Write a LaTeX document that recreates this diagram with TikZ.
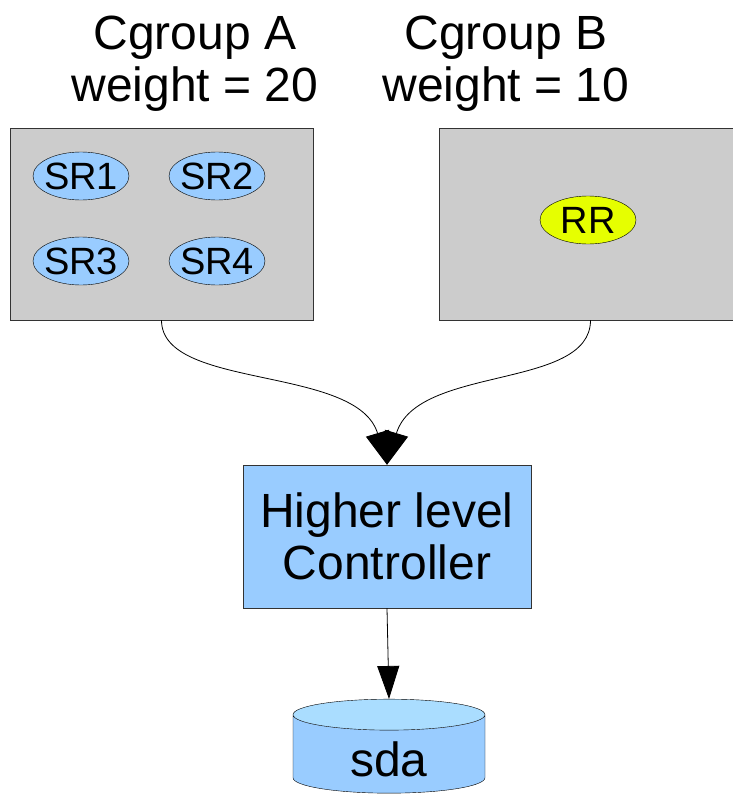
\documentclass[tikz,border=0pt]{standalone}
\usepackage{fontspec}
\setmainfont{Liberation Sans}
\usetikzlibrary{arrows.meta,shapes,calc}
\definecolor{boxgray}{RGB}{204,204,204}
\definecolor{reqblue}{RGB}{153,204,255}
\definecolor{topblue}{RGB}{170,221,255}
\definecolor{rryellow}{RGB}{230,255,0}
\definecolor{edgegray}{RGB}{51,51,51}
\newcommand{\bigtxt}{\fontsize{48pt}{52pt}\selectfont}
\newcommand{\midtxt}{\fontsize{38pt}{44pt}\selectfont}
\tikzstyle{cgroup}=[draw=edgegray, fill=boxgray, minimum width=303pt, minimum height=192pt, inner sep=0pt]
\tikzstyle{req}=[draw=black, ellipse, fill=reqblue, minimum width=96pt, minimum height=48pt, inner sep=-12pt, font=\midtxt]
\tikzstyle{ctlbox}=[draw=edgegray, fill=reqblue, minimum width=288pt, minimum height=143pt, align=center, font=\bigtxt]
\tikzstyle{disk}=[draw=black, cylinder, shape border rotate=90, aspect=0.4, cylinder uses custom fill, cylinder body fill=reqblue, cylinder end fill=topblue, minimum width=192pt, minimum height=94pt, inner sep=0pt, text height=44pt, text depth=0pt, font=\bigtxt]
\tikzstyle{flow}=[line width=0.8pt, -{Triangle[width=24pt,length=33pt]}]
\newcommand{\reqnode}[3]{
	\node[req] (#1) at #2 {#3};
}

\begin{document}
\begin{tikzpicture}[x=1pt, y=-1pt]
\useasboundingbox (0,0) rectangle (733,798);
%
	\node[font=\bigtxt, align=center, anchor=base] (titA) at (195,101) {Cgroup A\\weight = 20};
	\node[font=\bigtxt, align=center, anchor=base] (titB) at (506,101) {Cgroup B\\weight = 10};
	\node[cgroup] (grpA) at (161.5,224) {};
	\node[cgroup] (grpB) at (590.5,224) {};
%
	\reqnode{sr1}{(81,176)}{SR1}
	\reqnode{sr2}{(217,176)}{SR2}
	\reqnode{sr3}{(81,261)}{SR3}
	\reqnode{sr4}{(217,261)}{SR4}
	\node[req, fill=rryellow] (rr) at (588,220) {RR};
%
	\node[ctlbox] (ctl) at (387,536.5) {Higher level\\Controller};
	\node[disk] (sda) at (389,754) {sda};
%
	\draw[flow] (grpA.south) .. controls +(0,70) and +(-30,-100) .. (ctl.north);
	\draw[flow] (grpB.south) .. controls +(0,70) and +(30,-100) .. (ctl.north);
	\draw[line width=0.8pt, -{Triangle[width=22pt,length=33pt]}] (ctl.south) -- (sda.north);
\end{tikzpicture}
\end{document}
